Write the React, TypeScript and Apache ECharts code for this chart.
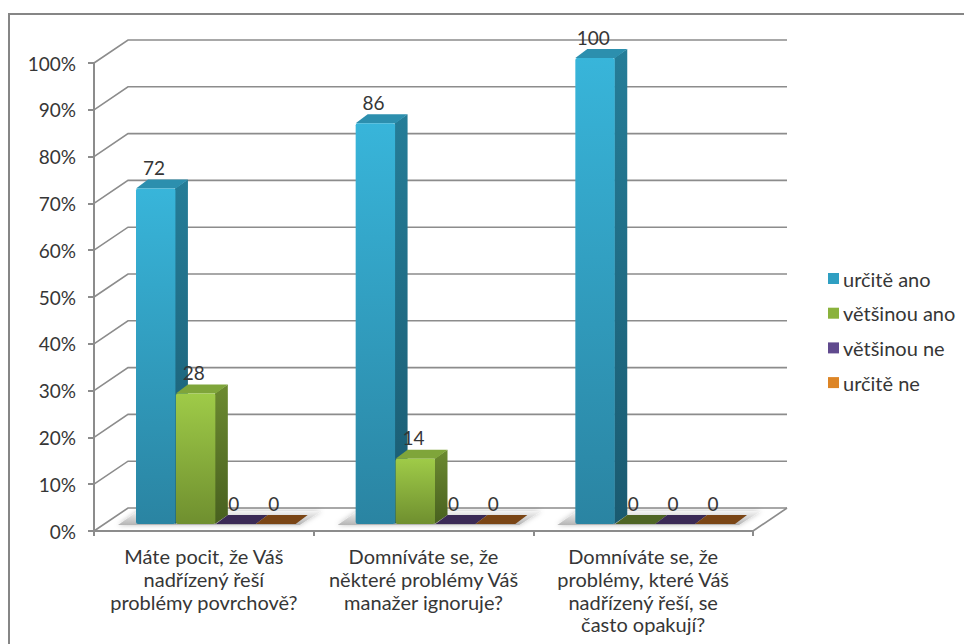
import React, { useEffect, useRef } from "react";
import * as echarts from "echarts";

const categories = [
  "Máte pocit, že Váš\nnadřízený řeší\nproblémy povrchově?",
  "Domníváte se, že\nněkteré problémy Váš\nmanažer ignoruje?",
  "Domníváte se, že\nproblémy, které Váš\nnadřízený řeší, se\nčasto opakují?",
];
const seriesNames = ["určitě ano", "většinou ano", "většinou ne", "určitě ne"];
const urciteAno = [72, 86, 100];
const vetsinouAno = [28, 14, 0];
const vetsinouNe = [0, 0, 0];
const urciteNe = [0, 0, 0];
const seriesValues = [urciteAno, vetsinouAno, vetsinouNe, urciteNe];
const yTicks = [0, 10, 20, 30, 40, 50, 60, 70, 80, 90, 100];

// Palette per series: front face top/bottom, side top/bottom, top face, flat (zero-height) face.
const faceColors = [
  { front: ["#38b5da", "#2a84a2"], side: ["#257d98", "#1a5a70"], top: "#2c8fae", flat: "#1f6f88" },
  { front: ["#9fcb48", "#6f8f2f"], side: ["#6c8a30", "#48601f"], top: "#7fa53a", flat: "#4e6424" },
  { front: ["#7a5ca8", "#54407a"], side: ["#4a3570", "#35264f"], top: "#5c4585", flat: "#3b2a56" },
  { front: ["#f59a30", "#b8701e"], side: ["#a8661c", "#7a4a14"], top: "#c97f25", flat: "#7a4515" },
];
const legendColors = ["#2f9fc2", "#8ab23c", "#604a8e", "#dd8526"];

const FONT = "Lato";
const GRID_LINE = "#8c8c8c";
const TEXT = "#363636";
// Projection of the chart's depth: wall offset, and bar placement on the floor.
const WALL_DX = 34;
const WALL_DY = 23;
const FLOOR_DX = 12;
const FLOOR_DY = 7;
const BAR_DX = 12;
const BAR_DY = 9;
const BAR_SCALE = 466 / 468;
const GROUP_GAP = 30;

const vGrad = (a: string, b: string) =>
  new echarts.graphic.LinearGradient(0, 0, 0, 1, [
    { offset: 0, color: a },
    { offset: 1, color: b },
  ]);

function renderWall(params: any, api: any) {
  const cs = params.coordSys;
  const y = api.coord([0, api.value(0)])[1];
  return {
    type: "polyline",
    shape: {
      points: [
        [cs.x, y],
        [cs.x + WALL_DX, y - WALL_DY],
        [cs.x + cs.width + WALL_DX, y - WALL_DY],
      ],
    },
    style: { stroke: GRID_LINE, lineWidth: 1.6, fill: "none" },
    silent: true,
  };
}

function renderFloorEdge(params: any) {
  const cs = params.coordSys;
  const y = cs.y + cs.height;
  const x = cs.x + cs.width;
  return {
    type: "line",
    shape: { x1: x, y1: y, x2: x + WALL_DX, y2: y - WALL_DY },
    style: { stroke: GRID_LINE, lineWidth: 1.6 },
    silent: true,
  };
}

function renderShadow(params: any, api: any) {
  const cs = params.coordSys;
  const band = api.size([1, 0])[0];
  const left = api.coord([api.value(0), 0])[0] - band / 2;
  const y = cs.y + cs.height;
  return {
    type: "polygon",
    shape: {
      points: [
        [left + 24, y - 6],
        [left + 44, y - 20],
        [left + band + 8, y - 20],
        [left + band - 14, y - 6],
      ],
    },
    style: {
      fill: vGrad("#f4f4f4", "#b4b4b4"),
      shadowBlur: 5,
      shadowColor: "rgba(0,0,0,0.25)",
    },
    silent: true,
  };
}

function makeBarRenderer(seriesIndex: number) {
  const c = faceColors[seriesIndex];
  return (params: any, api: any) => {
    const cat = api.value(0);
    const val = api.value(1);
    const band = api.size([1, 0])[0];
    const w = (band - 2 * GROUP_GAP) / 4;
    const base = api.coord([cat, 0]);
    const topPt = api.coord([cat, val]);
    const x0 = base[0] - band / 2 + GROUP_GAP + FLOOR_DX + seriesIndex * w;
    const x1 = x0 + w;
    const yb = base[1] - FLOOR_DY;
    const yt = yb - (base[1] - topPt[1]) * BAR_SCALE;
    const children: any[] = [];
    if (val > 0) {
      children.push(
        {
          type: "polygon",
          shape: {
            points: [
              [x1 - 1, yt],
              [x1 + BAR_DX, yt - BAR_DY],
              [x1 + BAR_DX, yb - BAR_DY],
              [x1 - 1, yb],
            ],
          },
          style: { fill: vGrad(c.side[0], c.side[1]) },
        },
        {
          type: "polygon",
          shape: {
            points: [
              [x0, yt],
              [x0 + BAR_DX, yt - BAR_DY],
              [x1 + BAR_DX, yt - BAR_DY],
              [x1, yt],
            ],
          },
          style: { fill: c.top },
        },
        {
          type: "rect",
          shape: { x: x0, y: yt, width: w - 0.5, height: yb - yt, r: 2 },
          style: { fill: vGrad(c.front[0], c.front[1]) },
        }
      );
    } else {
      children.push({
        type: "polygon",
        shape: {
          points: [
            [x0, yb],
            [x0 + BAR_DX, yb - BAR_DY],
            [x1 + BAR_DX, yb - BAR_DY],
            [x1, yb],
          ],
        },
        style: { fill: c.flat },
      });
    }
    children.push({
      type: "text",
      style: {
        text: String(val),
        x: (x0 + x1) / 2 - 2,
        y: yt - 21,
        align: "center",
        verticalAlign: "middle",
        fill: TEXT,
        font: `19px ${FONT}`,
      },
    });
    return { type: "group", children };
  };
}

export default function App() {
  const ref = useRef<HTMLDivElement>(null);

  useEffect(() => {
    const chart = echarts.init(ref.current!, undefined, { renderer: "svg" });
    chart.setOption({
      animation: false,
      backgroundColor: "#ffffff",
      textStyle: { fontFamily: FONT },
      grid: { left: 94, top: 63, width: 659, height: 468 },
      xAxis: {
        type: "category",
        data: categories,
        axisLine: { lineStyle: { color: GRID_LINE, width: 2 } },
        axisTick: { show: true, length: 5, lineStyle: { color: GRID_LINE, width: 2 } },
        axisLabel: {
          interval: 0,
          fontFamily: FONT,
          fontSize: 20,
          color: TEXT,
          lineHeight: 22.6,
          margin: 14,
        },
      },
      yAxis: {
        type: "value",
        min: 0,
        max: 100,
        interval: 10,
        splitLine: { show: false },
        axisLine: { show: true, lineStyle: { color: GRID_LINE, width: 2 } },
        axisTick: { show: true, length: 6, lineStyle: { color: GRID_LINE, width: 2 } },
        axisLabel: {
          formatter: "{value}%",
          fontFamily: FONT,
          fontSize: 19,
          color: TEXT,
          margin: 18,
        },
      },
      legend: {
        orient: "vertical",
        left: 823,
        top: 262,
        padding: 5,
        icon: "rect",
        itemWidth: 11,
        itemHeight: 11,
        itemGap: 11.7,
        data: seriesNames,
        textStyle: {
          fontFamily: FONT,
          fontSize: 20,
          color: TEXT,
          lineHeight: 23,
          padding: [0, 0, 0, -1],
        },
      },
      graphic: [
        {
          type: "rect",
          silent: true,
          z: -1,
          shape: { x: 9, y: 14, width: 970, height: 650 },
          style: { fill: "none", stroke: "#868686", lineWidth: 2 },
        },
      ],
      series: [
        {
          id: "walls",
          type: "custom",
          coordinateSystem: "cartesian2d",
          data: yTicks.map((v) => [v]),
          encode: { y: 0 },
          renderItem: renderWall,
          clip: false,
          silent: true,
          z: 1,
        },
        {
          id: "floor-edge",
          type: "custom",
          coordinateSystem: "cartesian2d",
          data: [[0]],
          encode: { y: 0 },
          renderItem: renderFloorEdge,
          clip: false,
          silent: true,
          z: 1,
        },
        {
          id: "shadows",
          type: "custom",
          coordinateSystem: "cartesian2d",
          data: categories.map((_, i) => [i, 0]),
          encode: { x: 0, y: 1 },
          renderItem: renderShadow,
          clip: false,
          silent: true,
          z: 2,
        },
        ...seriesNames.map((name, s) => ({
          name,
          type: "custom",
          coordinateSystem: "cartesian2d",
          data: seriesValues[s].map((v, i) => [i, v]),
          encode: { x: 0, y: 1 },
          itemStyle: { color: legendColors[s] },
          renderItem: makeBarRenderer(s),
          clip: false,
          z: 3 + s,
        })),
      ],
    });
    return () => chart.dispose();
  }, []);

  return (
    <div
      ref={ref}
      style={{ position: "absolute", left: 0, top: 0, width: 964, height: 644 }}
    />
  );
}
